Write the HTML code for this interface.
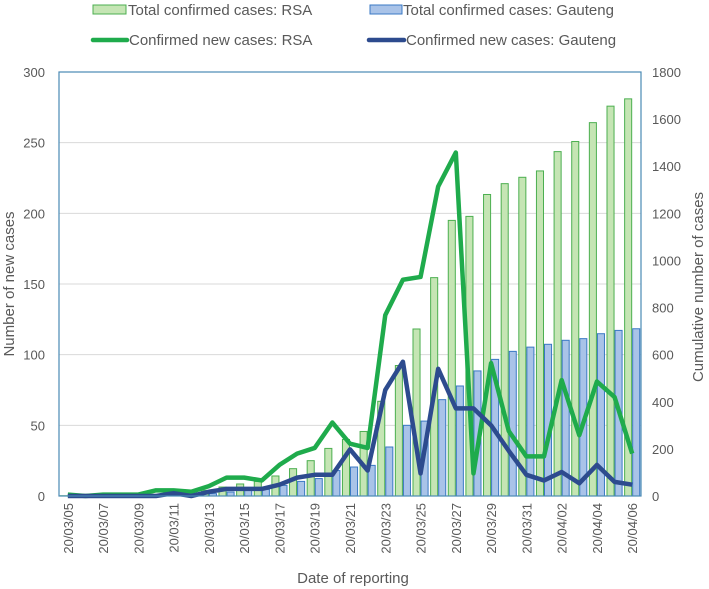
<!DOCTYPE html>
<html><head><meta charset="utf-8"><style>
body{margin:0;background:#fff;}
svg{display:block;font-family:"Liberation Sans",sans-serif;}
</style></head><body>
<svg id="chart" width="709" height="589"></svg>
<script>
const dates=["20/03/05","20/03/06","20/03/07","20/03/08","20/03/09","20/03/10","20/03/11","20/03/12","20/03/13","20/03/14","20/03/15","20/03/16","20/03/17","20/03/18","20/03/19","20/03/20","20/03/21","20/03/22","20/03/23","20/03/24","20/03/25","20/03/26","20/03/27","20/03/28","20/03/29","20/03/30","20/03/31","20/04/01","20/04/02","20/04/03","20/04/04","20/04/05","20/04/06"];
const newRSA=[1,0,1,1,1,4,4,3,7,13,13,11,22,30,34,52,37,34,128,153,155,219,243,16,94,46,28,28,82,43,81,70,30];
const newGauteng=[0,0,0,0,0,0,2,0,3,5,5,5,8,13,15,15,33,18,75,95,16,90,62,62,50,32,15,11,17,9,22,10,8];
const totalRSA=[1,1,2,3,7,7,13,17,24,38,51,62,85,116,150,202,240,274,402,554,709,927,1170,1187,1280,1326,1353,1380,1462,1505,1585,1655,1686];
const totalGauteng=[0,0,0,1,2,4,7,7,10,17,24,28,45,62,74,108,123,130,208,300,318,409,467,531,580,614,632,644,661,668,689,703,710];
const leftTicks=[0,50,100,150,200,250,300];
const rightTicks=[0,200,400,600,800,1000,1200,1400,1600,1800];

const NS="http://www.w3.org/2000/svg";
const svg=document.getElementById('chart');
const L=59,R=641,T=72,B=496;
const step=(R-L)/dates.length;
const xc=i=>L+step*(i+0.5);
const yL=v=>B-(v/300)*(B-T);
const yR=v=>B-(v/1800)*(B-T);
function mk(tag,attrs,parent){const e=document.createElementNS(NS,tag);for(const k in attrs)e.setAttribute(k,attrs[k]);(parent||svg).appendChild(e);return e;}

leftTicks.forEach(t=>{
  if(t>0){const g=mk('line',{x1:L,x2:R,y1:yL(t),y2:yL(t),stroke:'#d9d9d9','stroke-width':1});
  
  }
  const tx=mk('text',{x:45,y:yL(t)+5,'text-anchor':'end','font-size':13,fill:'#595959'});tx.textContent=t;
  
  
});
rightTicks.forEach(t=>{
  const tx=mk('text',{x:652,y:yR(t)+5,'font-size':13,fill:'#595959'});tx.textContent=t;
  
  
});
const bw=step*0.4;
dates.forEach((d,i)=>{
  const g=mk('rect',{x:xc(i)-bw-0.5,y:yR(totalRSA[i]),width:bw,height:B-yR(totalRSA[i]),fill:'#c5e5b4',stroke:'#4caf50','stroke-width':1});
  
  
  const b=mk('rect',{x:xc(i)+0.5,y:yR(totalGauteng[i]),width:bw,height:B-yR(totalGauteng[i]),fill:'#a9c3e8',stroke:'#3a78c4','stroke-width':1});
  
  
});
const lg=mk('polyline',{points:newRSA.map((v,i)=>xc(i)+','+yL(v)).join(' '),fill:'none',stroke:'#1fab4c','stroke-width':4.5,'stroke-linejoin':'round'});


const lb=mk('polyline',{points:newGauteng.map((v,i)=>xc(i)+','+yL(v)).join(' '),fill:'none',stroke:'#2d4b8e','stroke-width':4.5,'stroke-linejoin':'round'});


const fr=mk('rect',{x:L,y:T,width:R-L,height:B-T,fill:'none',stroke:'#4a8ab5','stroke-width':1.2});


dates.forEach((d,i)=>{
  if(i%2===0){const tx=mk('text',{x:0,y:0,'font-size':13,fill:'#595959','text-anchor':'end',transform:`translate(${xc(i)+5},503) rotate(-90)`});tx.textContent=d;
  
  }
});
let t=mk('text',{x:353,y:583,'text-anchor':'middle','font-size':15,fill:'#595959'});t.textContent='Date of reporting';


t=mk('text',{x:0,y:0,'text-anchor':'middle','font-size':15,fill:'#595959',transform:'translate(14,284) rotate(-90)'});t.textContent='Number of  new cases';


t=mk('text',{x:0,y:0,'text-anchor':'middle','font-size':15,fill:'#595959',transform:'translate(703,287) rotate(-90)'});t.textContent='Cumulative number of cases';


let e=mk('rect',{x:93,y:5,width:33,height:9,fill:'#c5e5b4',stroke:'#4caf50'});


t=mk('text',{x:128,y:15,'font-size':15,fill:'#595959'});t.textContent='Total confirmed cases:  RSA';


e=mk('rect',{x:370,y:5,width:32,height:9,fill:'#a9c3e8',stroke:'#3a78c4'});


t=mk('text',{x:403,y:15,'font-size':15,fill:'#595959'});t.textContent='Total confirmed cases: Gauteng';


e=mk('line',{x1:93,x2:127,y1:40,y2:40,stroke:'#1fab4c','stroke-width':4.5,'stroke-linecap':'round'});


t=mk('text',{x:129,y:45,'font-size':15,fill:'#595959'});t.textContent='Confirmed new cases: RSA';


e=mk('line',{x1:369,x2:404,y1:40,y2:40,stroke:'#2d4b8e','stroke-width':4.5,'stroke-linecap':'round'});


t=mk('text',{x:406,y:45,'font-size':15,fill:'#595959'});t.textContent='Confirmed new cases: Gauteng';


</script>
</body></html>
